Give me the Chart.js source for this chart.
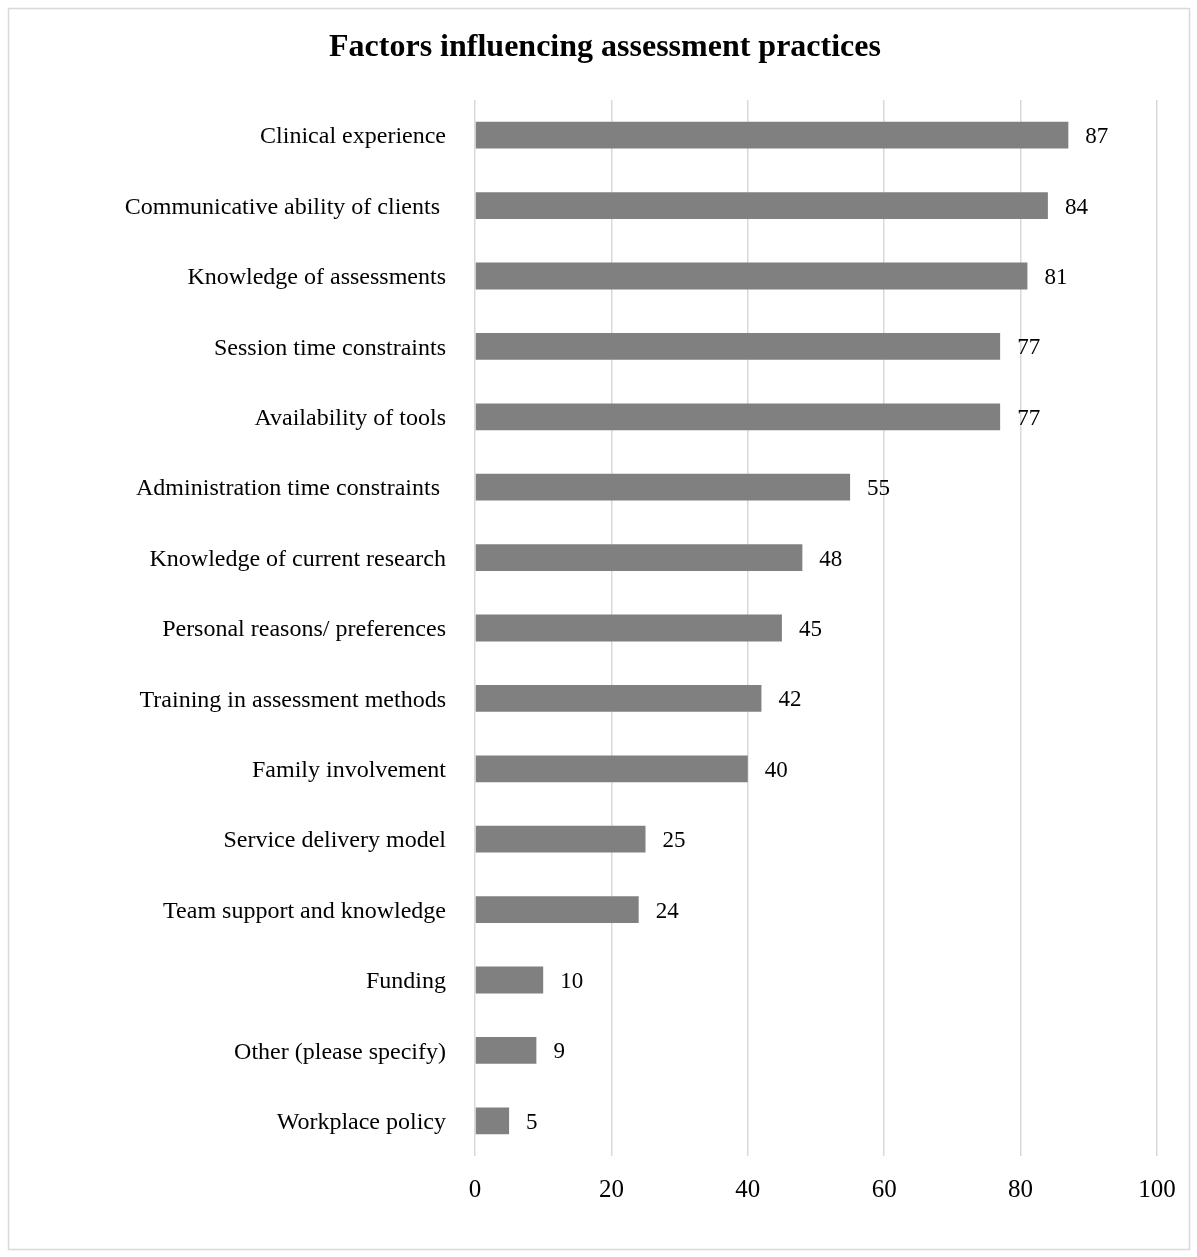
<!DOCTYPE html>
<html>
<head>
<meta charset="utf-8">
<script src="https://cdn.jsdelivr.net/npm/chart.js@4.4.0/dist/chart.umd.min.js"></script>
<style>
  body { margin: 0; background: #fff; }
  #wrap { width: 1197px; height: 1257px; }
</style>
</head>
<body>
<div id="wrap"><canvas id="bar-chart" width="1197" height="1257"></canvas></div>
<script>
// DATA
const factors = [
  'Clinical experience',
  'Communicative ability of clients ',
  'Knowledge of assessments',
  'Session time constraints',
  'Availability of tools',
  'Administration time constraints ',
  'Knowledge of current research',
  'Personal reasons/ preferences',
  'Training in assessment methods',
  'Family involvement',
  'Service delivery model',
  'Team support and knowledge',
  'Funding',
  'Other (please specify)',
  'Workplace policy'
];
const counts = [87, 84, 81, 77, 77, 55, 48, 45, 42, 40, 25, 24, 10, 9, 5];
const xTicks = [0, 20, 40, 60, 80, 100];
const chartTitle = 'Factors influencing assessment practices';

const FONT = "'Liberation Serif', 'Times New Roman', serif";

// white background, thin grey frame and the title
const framePlugin = {
  id: 'frame',
  beforeDraw(chart) {
    const c = chart.ctx;
    c.save();
    c.fillStyle = '#fff';
    c.fillRect(0, 0, chart.width, chart.height);
    c.strokeStyle = '#d9d9d9';
    c.lineWidth = 1.5;
    c.strokeRect(8.5, 8.5, 1181, 1241);
    c.fillStyle = '#000';
    c.font = 'bold 32px ' + FONT;
    c.textAlign = 'center';
    c.textBaseline = 'middle';
    c.fillText(chartTitle, 605, 48);
    c.restore();
  }
};

// numbers at the end of each bar
const valueLabels = {
  id: 'valueLabels',
  afterDatasetsDraw(chart) {
    const c = chart.ctx;
    const meta = chart.getDatasetMeta(0);
    c.save();
    c.font = '23px ' + FONT;
    c.fillStyle = '#000';
    c.textAlign = 'left';
    c.textBaseline = 'middle';
    meta.data.forEach((bar, i) => {
      c.fillText(counts[i], bar.x + 17, bar.y + 2);
    });
    c.restore();
  }
};

var ctx = document.getElementById('bar-chart');
new Chart(ctx, {
  type: 'bar',
  data: {
    labels: factors,
    datasets: [{
      data: counts,
      backgroundColor: '#808080',
      borderWidth: 0,
      barPercentage: 0.38,
      categoryPercentage: 1
    }]
  },
  options: {
    indexAxis: 'y',
    responsive: false,
    animation: false,
    layout: { padding: { left: 0, right: 40, top: 100, bottom: 0 } },
    plugins: {
      legend: { display: false },
      tooltip: { enabled: false },
      title: { display: false }
    },
    scales: {
      x: {
        min: 0,
        max: 100,
        afterBuildTicks: s => { s.ticks = xTicks.map(v => ({ value: v })); },
        afterFit: s => { s.height = 101; },
        border: { display: false },
        grid: { color: '#d9d9d9', lineWidth: 1.5, drawTicks: false },
        ticks: {
          color: '#000',
          padding: 19,
          font: { family: FONT, size: 25 }
        }
      },
      y: {
        afterFit: s => { s.width = 475; },
        border: { display: false },
        grid: { display: false },
        ticks: {
          color: '#000',
          padding: 21,
          labelOffset: 2,
          font: { family: FONT, size: 24 }
        }
      }
    }
  },
  plugins: [framePlugin, valueLabels]
});
</script>
</body>
</html>
